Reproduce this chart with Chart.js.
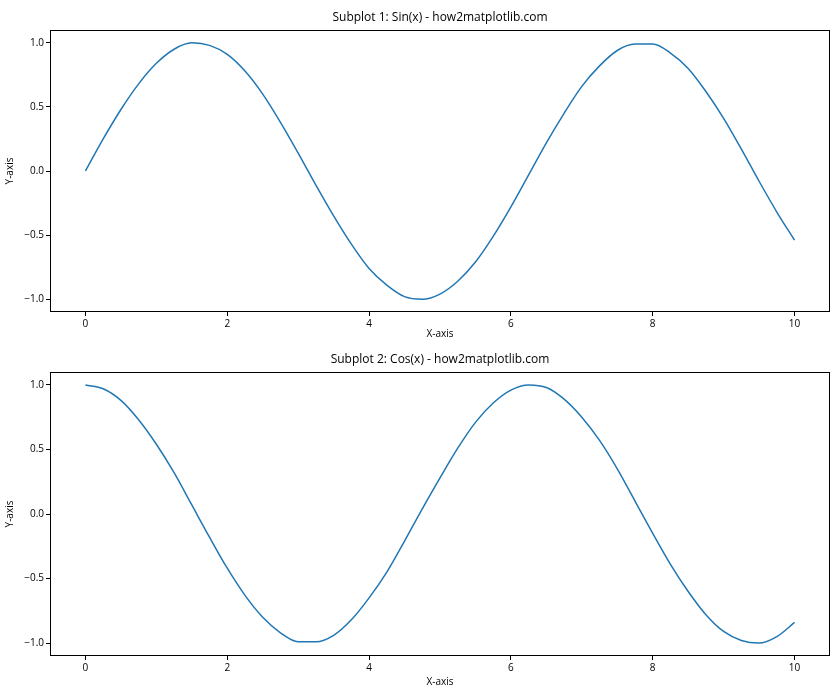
<!DOCTYPE html>
<html>
<head>
<meta charset="utf-8">
<script src="https://cdn.jsdelivr.net/npm/chart.js@4"></script>
<style>
  body { margin: 0; background: #fff; }
  canvas { position: absolute; left: 0; }
</style>
</head>
<body>
<canvas id="chartSin" width="840" height="344" style="top:0"></canvas>
<canvas id="chartCos" width="840" height="356" style="top:344px"></canvas>
<script>
// values, every 0.25 on x
const xValues = [0,0.25,0.5,0.75,1,1.25,1.5,1.75,2,2.25,2.5,2.75,3,3.25,3.5,3.75,4,4.25,4.5,4.75,5,
                 5.25,5.5,5.75,6,6.25,6.5,6.75,7,7.25,7.5,7.75,8,8.25,8.5,8.75,9,9.25,9.5,9.75,10];
const sinValues = [0,0.25,0.48,0.68,0.84,0.95,1.00,0.98,0.91,0.78,0.60,0.38,0.14,-0.11,-0.35,-0.57,-0.76,-0.89,-0.98,-1.00,-0.96,
                   -0.86,-0.71,-0.51,-0.28,-0.03,0.22,0.45,0.66,0.82,0.94,0.99,0.99,0.92,0.80,0.62,0.41,0.17,-0.08,-0.32,-0.54];
const cosValues = [1.00,0.97,0.88,0.73,0.54,0.32,0.07,-0.18,-0.42,-0.63,-0.80,-0.92,-0.99,-0.99,-0.94,-0.82,-0.65,-0.45,-0.21,0.04,0.28,
                   0.51,0.71,0.86,0.96,1.00,0.98,0.89,0.75,0.57,0.35,0.10,-0.15,-0.39,-0.60,-0.78,-0.91,-0.98,-1.00,-0.95,-0.84];
const xTicks = [0, 2, 4, 6, 8, 10];
const yTicks = [-1.0, -0.5, 0.0, 0.5, 1.0];

const FONT = "'Open Sans', 'DejaVu Sans', sans-serif";

const boxAndTitle = {
    id: 'boxAndTitle',
    afterDraw(chart, args, opts) {
        const a = chart.chartArea;
        const c = chart.ctx;
        c.save();
        c.strokeStyle = '#000';
        c.lineWidth = 1;
        c.strokeRect(a.left + 0.5, a.top + 0.5, a.right - a.left - 1, a.bottom - a.top - 1);
        c.fillStyle = '#000';
        c.font = '12px ' + FONT;
        c.textAlign = 'center';
        c.textBaseline = 'bottom';
        c.fillText(opts.text, (a.left + a.right) / 2, a.top - 6);
        c.restore();
    }
};

function makeChart(id, values, title, padTop, padBottom, xHeight) {
    const ctx = document.getElementById(id).getContext('2d');
    return new Chart(ctx, {
        type: 'line',
        data: {
            datasets: [{
                data: xValues.map((x, i) => ({x: x, y: values[i]})),
                borderColor: '#1f77b4',
                borderWidth: 1.5,
                pointRadius: 0,
                cubicInterpolationMode: 'monotone',
                fill: false
            }]
        },
        options: {
            responsive: false,
            animation: false,
            layout: {padding: {top: padTop, right: 10, left: 0, bottom: padBottom}},
            plugins: {
                legend: {display: false},
                tooltip: {enabled: false},
                boxAndTitle: {text: title}
            },
            scales: {
                x: {
                    type: 'linear', min: -0.5, max: 10.5,
                    afterBuildTicks: s => { s.ticks = xTicks.map(v => ({value: v})); },
                    afterFit: s => { s.height = xHeight; },
                    grid: {drawOnChartArea: false, color: '#000', tickLength: 4},
                    border: {display: false},
                    ticks: {color: '#000', font: {size: 10, family: FONT}, padding: 2},
                    title: {display: true, text: 'X-axis', color: '#000', font: {size: 10, family: FONT}, padding: {top: 6}}
                },
                y: {
                    min: -1.1, max: 1.1,
                    afterBuildTicks: s => { s.ticks = yTicks.map(v => ({value: v})); },
                    afterFit: s => { s.width = 50; },
                    grid: {drawOnChartArea: false, color: '#000', tickLength: 4},
                    border: {display: false},
                    ticks: {color: '#000', font: {size: 10, family: FONT}, padding: 2,
                            callback: v => v.toFixed(1).replace('-', '\u2212')},
                    title: {display: true, text: 'Y-axis', color: '#000', font: {size: 10, family: FONT}}
                }
            }
        },
        plugins: [boxAndTitle]
    });
}

makeChart('chartSin', sinValues, 'Subplot 1: Sin(x) - how2matplotlib.com', 30, 0, 32);
makeChart('chartCos', cosValues, 'Subplot 2: Cos(x) - how2matplotlib.com', 28, 8, 36);
</script>
</body>
</html>
